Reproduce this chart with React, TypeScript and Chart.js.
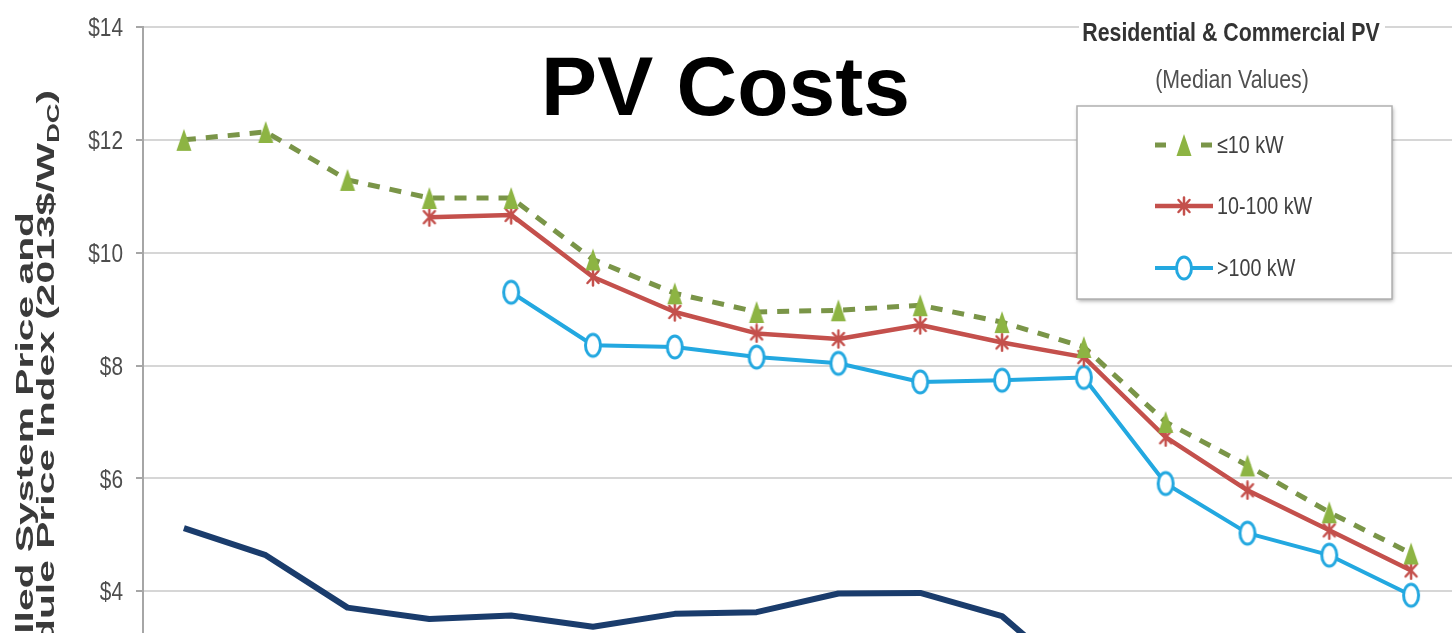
import React, { useEffect, useRef } from 'react';
import { Chart, registerables } from 'chart.js';

Chart.register(...registerables);

// ---------- data ----------
const years = ['1998', '1999', '2000', '2001', '2002', '2003', '2004', '2005', '2006', '2007', '2008', '2009', '2010', '2011', '2012', '2013'];
const smallSystems = [12.0, 12.14, 11.29, 10.97, 10.97, 9.88, 9.28, 8.95, 8.98, 9.07, 8.77, 8.33, 7.0, 6.23, 5.4, 4.67];
const mediumSystems = [null, null, null, 10.63, 10.67, 9.57, 8.95, 8.57, 8.47, 8.72, 8.41, 8.15, 6.73, 5.79, 5.08, 4.37];
const largeSystems = [null, null, null, null, 9.3, 8.36, 8.33, 8.15, 8.04, 7.71, 7.74, 7.79, 5.91, 5.03, 4.64, 3.93];
const moduleIndex = [5.12, 4.64, 3.71, 3.51, 3.57, 3.37, 3.6, 3.63, 3.96, 3.97, 3.56, 2.31, 1.9, 1.3, 0.85, 0.75];
const yTickValues = [0, 2, 4, 6, 8, 10, 12, 14];
const seriesLabels = ['≤10 kW', '10-100 kW', '>100 kW', 'Module Price Index'];
const chartTitle = 'PV Costs';
const legendTitle = ['Residential & Commercial PV', '(Median Values)'];
const yTitleLine1 = 'Installed System Price and';
const yTitleLine2 = 'Module Price Index (2013$/W';
const yTitleSub = 'DC';
const yTitleClose = ')';

const formatTick = (v: number) => '$' + v;

// ---------- styles ----------
const GREEN_LINE = '#7A9548';
const GREEN_MARK = '#8DB443';
const RED = '#C4504C';
const BLUE = '#23A8E0';
const NAVY = '#1A3C6C';
const SANS = "'Liberation Sans', Arial, sans-serif";

function makeTriangle(color: string) {
  const c = document.createElement('canvas');
  c.width = 18;
  c.height = 24;
  const ctx = c.getContext('2d')!;
  ctx.fillStyle = color;
  ctx.beginPath();
  ctx.moveTo(9, 1);
  ctx.lineTo(16.5, 23);
  ctx.lineTo(1.5, 23);
  ctx.closePath();
  ctx.fill();
  return c;
}

function makeStar(color: string) {
  const c = document.createElement('canvas');
  c.width = 16;
  c.height = 20;
  const ctx = c.getContext('2d')!;
  ctx.strokeStyle = color;
  ctx.lineWidth = 2.5;
  ctx.lineCap = 'round';
  ctx.beginPath();
  ctx.moveTo(8, 1.5); ctx.lineTo(8, 18.5);
  ctx.moveTo(2.5, 4); ctx.lineTo(13.5, 16);
  ctx.moveTo(13.5, 4); ctx.lineTo(2.5, 16);
  ctx.stroke();
  return c;
}

function makeEllipse(color: string) {
  const c = document.createElement('canvas');
  c.width = 20;
  c.height = 28;
  const ctx = c.getContext('2d')!;
  ctx.strokeStyle = color;
  ctx.fillStyle = '#ffffff';
  ctx.lineWidth = 3;
  ctx.beginPath();
  ctx.ellipse(10, 14, 7.5, 11, 0, 0, Math.PI * 2);
  ctx.fill();
  ctx.stroke();
  return c;
}

// draws text squeezed horizontally (the source uses a condensed face)
function narrowText(ctx: CanvasRenderingContext2D, text: string, x: number, y: number, sx: number, align: CanvasTextAlign) {
  ctx.save();
  ctx.translate(x, y);
  ctx.scale(sx, 1);
  ctx.textAlign = align;
  ctx.fillText(text, 0, 0);
  ctx.restore();
}

const overlayPlugin = {
  id: 'overlay',
  afterDraw(chart: any) {
    const ctx: CanvasRenderingContext2D = chart.ctx;
    ctx.save();

    // Y tick labels (condensed look), positioned by the y scale
    const ys = chart.scales.y;
    ctx.fillStyle = '#4d4d4d';
    ctx.font = `26px ${SANS}`;
    ctx.textBaseline = 'middle';
    ys.ticks.forEach((t: any) => {
      const py = ys.getPixelForValue(t.value);
      narrowText(ctx, formatTick(t.value), ys.right - 20, py + 2, 0.8, 'right');
    });
    ctx.textBaseline = 'alphabetic';

    // Big title
    ctx.fillStyle = '#000000';
    ctx.font = `bold 84px ${SANS}`;
    ctx.textAlign = 'center';
    ctx.fillText(chartTitle, 725.5, 115);

    // Rotated y-axis title (two lines, cut off by the page)
    ctx.fillStyle = '#3a3a3a';
    const mainFont = `bold 24px ${SANS}`;
    const subFont = `bold 16px ${SANS}`;
    const stretch = 1.7;
    ctx.save();
    ctx.translate(33, 212);
    ctx.rotate(-Math.PI / 2);
    ctx.scale(stretch, 1);
    ctx.font = mainFont;
    ctx.textAlign = 'right';
    ctx.fillText(yTitleLine1, 0, 0);
    ctx.restore();

    ctx.save();
    ctx.translate(54, 90);
    ctx.rotate(-Math.PI / 2);
    ctx.scale(stretch, 1);
    ctx.textAlign = 'right';
    ctx.font = mainFont;
    ctx.fillText(yTitleClose, 0, 0);
    const w1 = ctx.measureText(yTitleClose).width;
    ctx.font = subFont;
    ctx.fillText(yTitleSub, -w1, 5);
    const w2 = ctx.measureText(yTitleSub).width;
    ctx.font = mainFont;
    ctx.fillText(yTitleLine2, -w1 - w2, 0);
    ctx.restore();

    // Legend title with white background
    ctx.fillStyle = '#ffffff';
    ctx.fillRect(1079, 8, 306, 90);
    ctx.fillStyle = '#333333';
    ctx.font = `bold 26px ${SANS}`;
    narrowText(ctx, legendTitle[0], 1231, 41, 0.82, 'center');
    ctx.fillStyle = '#505050';
    ctx.font = `26px ${SANS}`;
    narrowText(ctx, legendTitle[1], 1232, 88, 0.82, 'center');

    // Legend box
    const bx = 1077, by = 106, bw = 315, bh = 193;
    ctx.save();
    ctx.shadowColor = 'rgba(0,0,0,0.35)';
    ctx.shadowBlur = 4;
    ctx.shadowOffsetX = 1;
    ctx.shadowOffsetY = 2;
    ctx.fillStyle = '#ffffff';
    ctx.fillRect(bx, by, bw, bh);
    ctx.restore();
    ctx.strokeStyle = '#B0B0B0';
    ctx.lineWidth = 1.5;
    ctx.strokeRect(bx, by, bw, bh);

    // Legend entries
    const rows = [145, 206, 268];
    for (let i = 0; i < 3; i++) {
      const ds = chart.data.datasets[i];
      const y = rows[i];
      ctx.save();
      ctx.strokeStyle = ds.borderColor;
      ctx.lineWidth = ds.borderWidth;
      ctx.lineCap = 'butt';
      ctx.beginPath();
      if (ds.borderDash && ds.borderDash.length) {
        ctx.moveTo(1155, y); ctx.lineTo(1166, y);
        ctx.moveTo(1201, y); ctx.lineTo(1212, y);
      } else {
        ctx.moveTo(1155, y); ctx.lineTo(1213, y);
      }
      ctx.stroke();
      const ps = ds.pointStyle as HTMLCanvasElement;
      ctx.drawImage(ps, 1184 - ps.width / 2, y - ps.height / 2);
      ctx.restore();
      ctx.fillStyle = '#404040';
      ctx.font = `24px ${SANS}`;
      ctx.textBaseline = 'middle';
      narrowText(ctx, ds.label, 1217, y + 1, 0.82, 'left');
      ctx.textBaseline = 'alphabetic';
    }

    ctx.restore();
  },
};

export default function App() {
  const ref = useRef<HTMLCanvasElement>(null);

  useEffect(() => {
    const canvas = ref.current!;
    const tri = makeTriangle(GREEN_MARK);
    const star = makeStar(RED);
    const ell = makeEllipse(BLUE);

    const chart = new Chart(canvas, {
      type: 'line',
      data: {
        labels: years,
        datasets: [
          {
            label: seriesLabels[0],
            data: smallSystems,
            borderColor: GREEN_LINE,
            backgroundColor: GREEN_MARK,
            borderWidth: 5,
            borderDash: [12, 10],
            borderCapStyle: 'butt',
            pointStyle: tri,
            pointRadius: 6,
            tension: 0,
            fill: false,
          },
          {
            label: seriesLabels[1],
            data: mediumSystems,
            borderColor: RED,
            backgroundColor: RED,
            borderWidth: 4.5,
            borderJoinStyle: 'round',
            pointStyle: star,
            pointRadius: 6,
            tension: 0,
            fill: false,
          },
          {
            label: seriesLabels[2],
            data: largeSystems,
            borderColor: BLUE,
            backgroundColor: BLUE,
            borderWidth: 4,
            borderJoinStyle: 'round',
            pointStyle: ell,
            pointRadius: 6,
            tension: 0,
            fill: false,
          },
          {
            label: seriesLabels[3],
            data: moduleIndex,
            borderColor: NAVY,
            backgroundColor: NAVY,
            borderWidth: 6,
            borderJoinStyle: 'round',
            pointRadius: 0,
            tension: 0,
            fill: false,
          },
        ],
      } as any,
      options: {
        animation: false,
        responsive: true,
        maintainAspectRatio: false,
        layout: { autoPadding: false, padding: { left: 0, right: 3, top: 27, bottom: 0 } },
        plugins: {
          legend: { display: false },
          tooltip: { enabled: false },
          title: { display: false },
        },
        scales: {
          x: {
            type: 'category',
            offset: true,
            grid: { display: false },
            border: { display: false },
            ticks: { font: { family: SANS, size: 20 }, color: '#595959' },
            afterFit: (s: any) => {
              s.height = 44;
              s.paddingLeft = 0;
              s.paddingRight = 0;
            },
          },
          y: {
            type: 'linear',
            min: 0,
            max: 14,
            afterBuildTicks: (s: any) => {
              s.ticks = yTickValues.map((v) => ({ value: v }));
            },
            ticks: {
              display: false,
              callback: (v: any) => formatTick(v),
            },
            grid: {
              color: '#D6D6D6',
              lineWidth: 2,
              tickLength: 7,
              tickColor: '#A6A6A6',
              tickWidth: 2,
            },
            border: { color: '#A6A6A6', width: 2 },
            afterFit: (s: any) => {
              s.width = 143;
              s.paddingTop = 0;
              s.paddingBottom = 0;
            },
          },
        },
      } as any,
      plugins: [overlayPlugin],
    });

    return () => chart.destroy();
  }, []);

  return (
    <div
      style={{
        position: 'fixed',
        left: 0,
        top: 0,
        width: 1455,
        height: 633,
        overflow: 'hidden',
        background: '#ffffff',
      }}
    >
      <div style={{ position: 'relative', width: 1455, height: 861 }}>
        <canvas ref={ref} style={{ display: 'block' }} />
      </div>
    </div>
  );
}
